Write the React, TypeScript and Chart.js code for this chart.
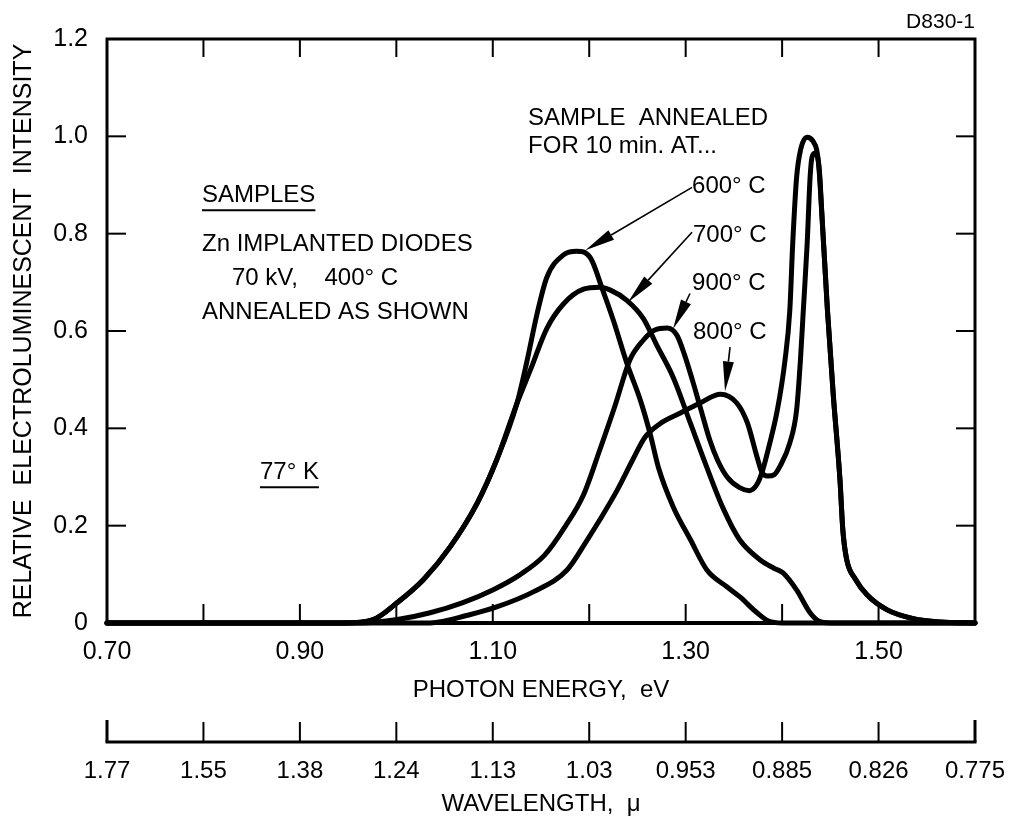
import { useEffect, useRef } from 'react';
import { Chart, registerables } from 'chart.js';

Chart.register(...registerables);

const FONT = "'Liberation Sans', Arial, sans-serif";

// ---- axis ticks ----
const energyTickLabels = [0.7, 0.9, 1.1, 1.3, 1.5];
const energyMinorTicks = [0.8, 0.9, 1.0, 1.1, 1.2, 1.3, 1.4, 1.5];
const intensityTicks = [0, 0.2, 0.4, 0.6, 0.8, 1.0, 1.2];
const wavelengthTickEnergies = [0.7, 0.8, 0.9, 1.0, 1.1, 1.2, 1.3, 1.4, 1.5, 1.6];
const wavelengthLabels = ['1.77', '1.55', '1.38', '1.24', '1.13', '1.03', '0.953', '0.885', '0.826', '0.775'];

// ---- series (photon energy eV, relative intensity) ----
const e600 = [0.70, 0.945, 0.976, 1.001, 1.028, 1.056, 1.084, 1.104, 1.125, 1.135, 1.146, 1.156, 1.173, 1.187, 1.201, 1.214, 1.225, 1.239, 1.253, 1.263, 1.272, 1.287, 1.305, 1.322, 1.343, 1.356, 1.374, 1.386, 1.40, 1.60];
const v600 = [0, 0, 0.007, 0.042, 0.089, 0.157, 0.247, 0.335, 0.451, 0.534, 0.636, 0.71, 0.756, 0.764, 0.751, 0.684, 0.622, 0.534, 0.458, 0.39, 0.318, 0.239, 0.171, 0.109, 0.074, 0.054, 0.021, 0.004, 0, 0];

const e700 = [0.70, 0.945, 0.976, 1.001, 1.028, 1.056, 1.084, 1.104, 1.125, 1.139, 1.156, 1.173, 1.194, 1.211, 1.222, 1.239, 1.256, 1.270, 1.287, 1.305, 1.320, 1.339, 1.356, 1.377, 1.391, 1.401, 1.415, 1.429, 1.438, 1.45, 1.60];
const v700 = [0, 0, 0.007, 0.042, 0.089, 0.157, 0.247, 0.335, 0.451, 0.52, 0.605, 0.655, 0.686, 0.69, 0.684, 0.663, 0.626, 0.571, 0.505, 0.41, 0.33, 0.235, 0.171, 0.13, 0.113, 0.103, 0.068, 0.021, 0.004, 0, 0];

const e900 = [0.70, 0.962, 1.001, 1.035, 1.069, 1.100, 1.128, 1.154, 1.175, 1.194, 1.211, 1.227, 1.242, 1.256, 1.268, 1.281, 1.291, 1.299, 1.307, 1.315, 1.325, 1.333, 1.343, 1.356, 1.366, 1.374, 1.380, 1.386, 1.395, 1.403, 1.408, 1.411, 1.415, 1.419, 1.426, 1.432, 1.436, 1.438, 1.441, 1.447, 1.453, 1.460, 1.463, 1.467, 1.476, 1.488, 1.509, 1.536, 1.564, 1.60];
const v900 = [0, 0, 0.007, 0.021, 0.042, 0.068, 0.099, 0.14, 0.198, 0.263, 0.356, 0.448, 0.54, 0.581, 0.602, 0.606, 0.591, 0.55, 0.499, 0.444, 0.376, 0.335, 0.30, 0.278, 0.272, 0.285, 0.315, 0.36, 0.437, 0.54, 0.643, 0.78, 0.915, 0.971, 0.998, 0.99, 0.971, 0.94, 0.848, 0.643, 0.47, 0.294, 0.19, 0.13, 0.09, 0.058, 0.027, 0.009, 0.002, 0];

const e800 = [0.70, 1.035, 1.076, 1.104, 1.142, 1.177, 1.198, 1.211, 1.229, 1.245, 1.258, 1.273, 1.294, 1.315, 1.336, 1.353, 1.364, 1.374, 1.379, 1.385, 1.392, 1.398, 1.408, 1.415, 1.419, 1.422, 1.426, 1.429, 1.431, 1.434, 1.437, 1.439, 1.441, 1.447, 1.453, 1.460, 1.463, 1.467, 1.476, 1.488, 1.509, 1.536, 1.564, 1.60];
const v800 = [0, 0, 0.017, 0.033, 0.064, 0.109, 0.171, 0.212, 0.273, 0.335, 0.382, 0.409, 0.431, 0.452, 0.470, 0.452, 0.411, 0.341, 0.31, 0.302, 0.305, 0.323, 0.37, 0.437, 0.54, 0.643, 0.78, 0.915, 0.957, 0.965, 0.955, 0.92, 0.848, 0.643, 0.47, 0.294, 0.19, 0.13, 0.09, 0.058, 0.027, 0.009, 0.002, 0];

// ---- annotations (in data coordinates) ----
const textNotes = [
  { text: 'SAMPLE  ANNEALED', x: 1.1366, y: 1.0365 },
  { text: 'FOR 10 min. AT...', x: 1.1366, y: 0.979 },
  { text: '600° C', x: 1.3066, y: 0.897 },
  { text: '700° C', x: 1.3076, y: 0.797 },
  { text: '900° C', x: 1.3066, y: 0.697 },
  { text: '800° C', x: 1.3076, y: 0.598 },
  { text: 'SAMPLES', x: 0.7985, y: 0.879, underline: true },
  { text: 'Zn IMPLANTED DIODES', x: 0.7985, y: 0.778 },
  { text: '70 kV,    400° C', x: 0.8296, y: 0.708 },
  { text: 'ANNEALED AS SHOWN', x: 0.7985, y: 0.639 },
  { text: '77° K', x: 0.8586, y: 0.310, underline: true },
];
const arrowNotes = [
  { x1: 1.3066, y1: 0.895, x2: 1.196, y2: 0.766 },
  { x1: 1.3066, y1: 0.803, x2: 1.2402, y2: 0.659 },
  { x1: 1.3045, y1: 0.677, x2: 1.2869, y2: 0.604 },
  { x1: 1.346, y1: 0.567, x2: 1.3408, y2: 0.476 },
];

const pts = (xs: number[], ys: number[]) => xs.map((x, i) => ({ x, y: ys[i] }));

const decorPlugin = {
  id: 'decor',
  afterDraw(chart: any) {
    const { ctx, chartArea: ca, scales } = chart;
    const sx = scales.x;
    const sy = scales.y;
    const sx2 = scales.x2;
    const line = (a: number, b: number, c: number, d: number) => {
      ctx.beginPath();
      ctx.moveTo(a, b);
      ctx.lineTo(c, d);
      ctx.stroke();
    };
    ctx.save();
    ctx.strokeStyle = '#000';
    ctx.fillStyle = '#000';
    ctx.lineCap = 'butt';
    // frame
    ctx.lineWidth = 3;
    ctx.strokeRect(ca.left, ca.top, ca.right - ca.left, ca.bottom - ca.top);
    ctx.lineWidth = 4;
    line(ca.left - 1.5, ca.bottom, ca.right + 1.5, ca.bottom);
    // inward ticks
    ctx.lineWidth = 2;
    for (const e of energyMinorTicks) {
      const px = sx.getPixelForValue(e);
      line(px, ca.bottom, px, ca.bottom - 19);
      line(px, ca.top, px, ca.top + 18);
    }
    for (const v of intensityTicks) {
      if (v === 0 || v === 1.2) continue;
      const py = sy.getPixelForValue(v);
      line(ca.left, py, ca.left + 19, py);
      line(ca.right, py, ca.right - 19, py);
    }
    // wavelength axis
    const ay = sx2.top + 32;
    ctx.lineWidth = 3;
    line(sx2.getPixelForValue(0.7) - 1.5, ay, sx2.getPixelForValue(1.6) + 1.5, ay);
    wavelengthTickEnergies.forEach((e, i) => {
      const px = sx2.getPixelForValue(e);
      const edge = i === 0 || i === wavelengthTickEnergies.length - 1;
      ctx.lineWidth = edge ? 3 : 2;
      line(px, ay, px, ay - (edge ? 22 : 20));
    });
    // texts
    ctx.font = `24px ${FONT}`;
    ctx.textBaseline = 'middle';
    ctx.textAlign = 'left';
    for (const n of textNotes) {
      const px = sx.getPixelForValue(n.x);
      const py = sy.getPixelForValue(n.y);
      ctx.fillText(n.text, px, py);
      if (n.underline) {
        const w = ctx.measureText(n.text).width;
        ctx.lineWidth = 2;
        line(px, py + 15, px + w, py + 15);
      }
    }
    // code label
    ctx.font = `21px ${FONT}`;
    ctx.textAlign = 'right';
    ctx.fillText('D830-1', ca.right, 22);
    // arrows
    for (const a of arrowNotes) {
      const x1 = sx.getPixelForValue(a.x1);
      const y1 = sy.getPixelForValue(a.y1);
      const x2 = sx.getPixelForValue(a.x2);
      const y2 = sy.getPixelForValue(a.y2);
      const ang = Math.atan2(y2 - y1, x2 - x1);
      const L = 30;
      const W = 5.5;
      const bx = x2 - L * Math.cos(ang);
      const by = y2 - L * Math.sin(ang);
      ctx.lineWidth = 1.6;
      line(x1, y1, bx, by);
      ctx.beginPath();
      ctx.moveTo(x2, y2);
      ctx.lineTo(bx + W * Math.sin(ang), by - W * Math.cos(ang));
      ctx.lineTo(bx - W * Math.sin(ang), by + W * Math.cos(ang));
      ctx.closePath();
      ctx.fill();
    }
    ctx.restore();
  },
};

export default function App() {
  const ref = useRef<HTMLCanvasElement | null>(null);
  useEffect(() => {
    if (!ref.current) return;
    const mk = (xs: number[], ys: number[]) => ({
      data: pts(xs, ys),
      showLine: true,
      borderColor: '#000',
      borderWidth: 5,
      pointRadius: 0,
      fill: false,
      cubicInterpolationMode: 'monotone' as const,
      borderJoinStyle: 'round' as const,
      borderCapStyle: 'round' as const,
      clip: false as any,
      xAxisID: 'x',
      yAxisID: 'y',
    });
    const fitX = (h: number) => (s: any) => {
      s.height = h;
      s.paddingLeft = 0;
      s.paddingRight = 0;
    };
    const chart = new Chart(ref.current, {
      type: 'scatter',
      data: {
        datasets: [
          { label: '600° C', ...mk(e600, v600) },
          { label: '700° C', ...mk(e700, v700) },
          { label: '900° C', ...mk(e900, v900) },
          { label: '800° C', ...mk(e800, v800) },
        ],
      },
      options: {
        animation: false,
        responsive: false,
        devicePixelRatio: 1,
        events: [],
        layout: { padding: { left: 0, top: 39, right: 42, bottom: 0 } },
        plugins: { legend: { display: false }, tooltip: { enabled: false } },
        scales: {
          x: {
            type: 'linear',
            position: 'bottom',
            weight: 0,
            min: 0.7,
            max: 1.6,
            grid: { display: false, drawTicks: false },
            border: { display: false },
            afterBuildTicks: (s: any) => { s.ticks = energyTickLabels.map((v) => ({ value: v })); },
            afterFit: fitX(87),
            ticks: {
              color: '#000',
              font: { family: FONT, size: 25 },
              padding: 14,
              autoSkip: false,
              maxRotation: 0,
              callback: (v: any) => Number(v).toFixed(2),
            },
            title: {
              display: true,
              text: 'PHOTON ENERGY,  eV',
              color: '#000',
              font: { family: FONT, size: 24 },
              padding: { top: 0, bottom: 5 },
            },
          },
          x2: {
            type: 'linear',
            position: 'bottom',
            weight: 1,
            min: 0.7,
            max: 1.6,
            grid: { display: false, drawTicks: false },
            border: { display: false },
            afterBuildTicks: (s: any) => { s.ticks = wavelengthTickEnergies.map((v) => ({ value: v })); },
            afterFit: fitX(120),
            ticks: {
              color: '#000',
              font: { family: FONT, size: 24 },
              padding: 47,
              autoSkip: false,
              maxRotation: 0,
              callback: (_v: any, i: number) => wavelengthLabels[i],
            },
            title: {
              display: true,
              text: 'WAVELENGTH,  \u03bc',
              color: '#000',
              font: { family: FONT, size: 24 },
              padding: { top: 0, bottom: 11 },
            },
          },
          y: {
            type: 'linear',
            position: 'left',
            min: 0,
            max: 1.2,
            grid: { display: false, drawTicks: false },
            border: { display: false },
            afterBuildTicks: (s: any) => { s.ticks = intensityTicks.map((v) => ({ value: v })); },
            afterFit: (s: any) => { s.width = 107; s.paddingTop = 0; s.paddingBottom = 0; },
            ticks: {
              color: '#000',
              font: { family: FONT, size: 25 },
              padding: 19,
              callback: (v: any) => (Number(v) === 0 ? '0' : Number(v).toFixed(1)),
            },
            title: {
              display: true,
              text: 'RELATIVE  ELECTROLUMINESCENT  INTENSITY',
              color: '#000',
              font: { family: FONT, size: 25 },
              padding: { top: 9, bottom: 0 },
            },
          },
        },
      },
      plugins: [decorPlugin],
    });
    return () => chart.destroy();
  }, []);
  return (
    <div style={{ position: 'absolute', left: 0, top: 0, width: 1017, height: 830, background: '#fff' }}>
      <canvas ref={ref} width={1017} height={830} />
    </div>
  );
}
